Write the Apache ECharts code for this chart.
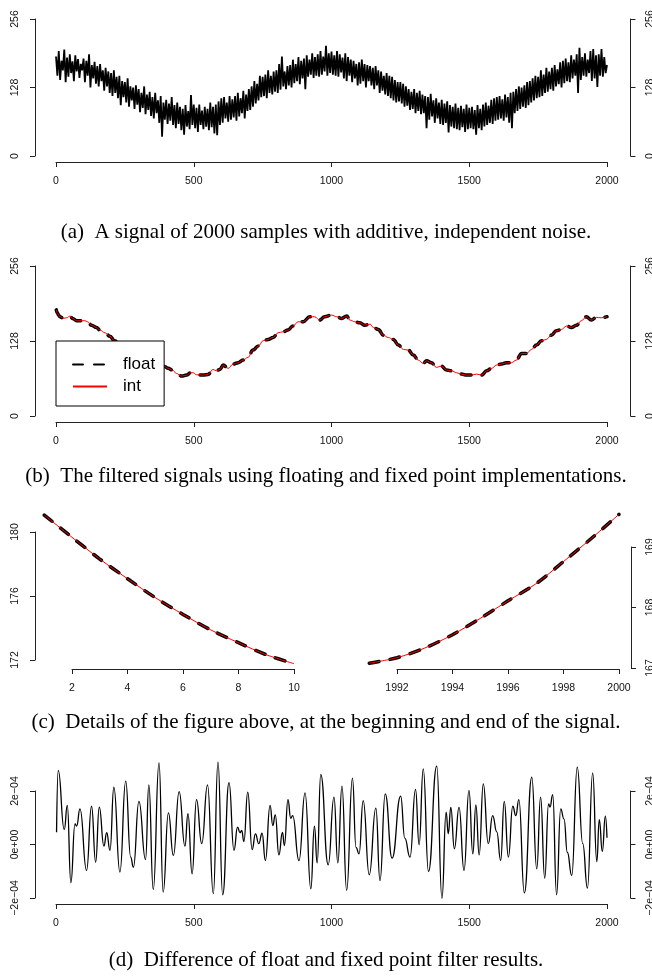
<!DOCTYPE html>
<html>
<head>
<meta charset="utf-8">
<script src="https://cdn.jsdelivr.net/npm/echarts@6/dist/echarts.min.js"></script>
<style>
html,body{margin:0;padding:0;background:#fff;}
#chart{width:652px;height:979px;}
</style>
</head>
<body>
<div id="chart"></div>
<script>
// (a) noisy signal, one value every 5 samples
const noisyStep = 5;
const noisySignal = [
  186,150,196,142,178,160,199,138,184,148, 190,155,177,140,188,158,181,146,172,160,
  182,138,178,150,190,128,170,145,176,135, 168,130,172,140,160,122,165,130,158,118,
  155,112,160,118,148,108,150,95,140,110,  138,100,145,92,130,104,128,88,132,96,
  125,82,118,90,130,78,115,86,120,75,      110,70,118,80,104,62,112,36,100,68,
  105,60,98,66,110,58,95,52,100,60,        92,48,88,40,95,55,84,50,114,58,
  96,52,90,45,96,58,85,50,92,55,           88,48,100,54,92,42,96,39,102,58,
  108,62,110,70,100,64,112,68,106,72,      112,66,118,74,108,80,122,70,115,84,
  125,86,130,92,140,98,135,104,150,110,    148,112,152,108,160,118,150,115,158,120,
  160,118,172,124,186,130,158,125,168,132, 170,128,180,136,172,140,185,134,178,145,
  182,125,188,148,180,152,192,146,185,150, 190,148,196,152,186,158,206,150,192,155,
  195,152,188,150,196,148,190,156,184,145, 192,140,185,150,180,138,178,145,172,132,
  175,135,180,140,172,128,170,140,168,132, 165,125,168,132,160,118,158,122,150,115,
  155,112,150,108,148,104,142,100,138,102, 138,98,135,92,130,94,125,86,120,88,
  125,80,118,84,122,78,115,80,112,52,      110,68,116,74,104,62,108,70,100,60,
  105,58,98,62,102,44,95,55,92,52,         98,50,90,48,94,54,88,45,96,50,
  90,52,92,50,86,40,95,52,88,48,           96,55,100,58,94,62,105,60,108,66,
  110,68,112,70,106,66,115,72,110,62,      118,52,120,80,125,84,130,88,128,92,
  132,90,138,95,140,100,145,104,150,108,   148,110,160,112,152,118,165,120,158,125,
  165,122,170,130,162,134,175,128,178,136, 182,140,175,138,188,145,180,150,190,118,
  202,142,185,150,192,148,180,155,196,140, 200,145,188,129,190,150,200,148,185,155,
  170
];

// (b) filtered signal (float and int coincide at this scale)
const filteredX = [1,5,10,14,27,39,51,60,75,87,105,114,129,147,160,178,196,212,230,250,270,
  290,310,330,350,370,385,395,407,423,437,456,474,488,498,510,534,552,570,582,595,
  607,625,643,661,679,697,715,734,752,770,788,806,824,842,860,879,897,921,939,957,
  975,1000,1019,1037,1055,1067,1085,1103,1121,1140,1152,1170,1188,1206,1224,1243,1261,1279,1297,1315,
  1333,1345,1363,1381,1399,1417,1436,1454,1472,1490,1508,1526,1545,1563,1581,1599,1617,1635,1653,1671,
  1690,1708,1726,1744,1762,1780,1798,1816,1834,1853,1871,1889,1907,1925,1943,1961,1979,2000];
const filteredY = [181.1,175.9,171.8,169.5,166.6,167.7,170.6,166.6,162.6,162.6,162.6,161,155,151,146.5,142,136,128.5,124,119,113,
  107,102,97,93,89,86,84.2,81.3,78.4,72.7,68.1,69.8,73.8,73.8,70.4,69.8,71,79.5,77.2,79.5,
  86.9,81.3,88.6,90.9,95.4,100,112.5,119.3,128.5,130.7,134.1,142,143.8,146.6,153.5,160.8,160.8,169.4,169.4,163.7,
  169.4,172.2,169.4,166.6,170.6,163.7,160.8,159,155,156.8,151.1,147.7,138,134,130.7,121,113.6,112.5,104,95.4,
  89.7,94.2,90.9,82.9,85.2,78.4,77.2,73.8,71.5,69.8,69.8,71.5,69.8,77.2,81.3,86.9,88.6,90.9,90.9,95.4,
  106.8,106.8,113.6,121,128.5,130.7,138,145.4,147.7,153.5,151.1,155,162.6,169.4,163.7,168.3,167.7,169.5];

// (c) details at the beginning and the end
const startX = [1,2,3,4,5,6,7,8,9,10];
const startY = [181.06,179.67,178.31,177.08,175.90,174.85,173.88,173.08,172.33,171.77];
const endX = [1991,1992,1993,1994,1995,1996,1997,1998,1999,2000];
const endY = [167.08,167.17,167.33,167.55,167.82,168.11,168.39,168.76,169.14,169.54];

// (d) float - int, extrema of the curve, values in units of 1e-4
const diffX = [2,8,30,41,54,69,75,87,111,129, 144,157,174,184,196,210,232,253,271,281,
  301,325,337,353,374,389,408,426,447,468, 479,494,510,529,550,571,588,605,628,646,
  659,668,674,682,696,712,724,736,748,760, 777,787,796,809,822,829,842,852,859,882,
  904,925,938,948,961,988,1009,1023,1038,1055, 1076,1089,1100,1115,1137,1161,1176,1195,1220,1251,
  1266,1285,1305,1318,1333,1352,1382,1401,1416,1424, 1433,1446,1463,1481,1499,1513,1524,1536,1551,1569,
  1585,1600,1614,1627,1642,1658,1669,1680,1700,1727, 1745,1759,1774,1788,1793,1803,1817,1832,1844,1856,
  1872,1892,1912,1929,1948,1963,1972,1983,1994,2000];
const diffY = [0.46,2.77,0.56,1.46,-1.43,0.77,0.69,1.33,-0.97,1.43, -0.66,1.40,-0.06,0.44,-0.22,2.14,-1.03,2.37,-0.47,-0.85,
  1.61,-0.56,2.23,-1.68,3.05,-1.78,1.18,-0.41,1.98,-0.06, 1.15,-1.10,1.68,0.03,2.23,-1.84,3.08,-1.88,2.31,-0.22,
  0.65,0.44,0.53,0.11,1.96,-0.19,0.40,0.03,0.42,-0.60, 1.46,0.71,1.11,-0.39,0.45,-0.04,1.68,0.98,1.08,-0.60,
  1.93,-1.66,0.69,-0.69,2.62,-0.76,1.77,-0.69,2.18,-1.72, 2.48,-0.11,-0.35,1.64,-1.13,1.36,-1.35,1.89,-0.51,1.81,
  0.24,-0.47,2.06,-0.01,2.83,-1.01,2.93,-2.01,1.21,0.40, 1.39,-0.16,1.39,-0.97,2.02,-0.35,1.48,-0.39,2.27,0.03,
  1.08,0.47,-0.60,1.61,-0.47,1.43,1.08,1.68,-1.81,2.52, -0.91,1.77,-1.26,1.52,1.40,1.86,-1.88,1.33,0.95,-0.29,
  -1.16,2.89,0.03,-1.63,2.68,-0.64,0.93,-0.26,1.06,0.25];
const diffTicks = [-2, 0, 2];
const diffTickLabels = ['\u22122e\u221204', '0e+00', '2e\u221204'];

const captions = [
  '(a)  A signal of 2000 samples with additive, independent noise.',
  '(b)  The filtered signals using floating and fixed point implementations.',
  '(c)  Details of the figure above, at the beginning and end of the signal.',
  '(d)  Difference of float and fixed point filter results.'
];

const zip = (xs, ys) => xs.map((x, i) => [x, ys[i]]);
const plain = v => String(v);
const diffLabel = v => diffTickLabels[diffTicks.indexOf(Math.round(v))];

function axis(extra, label) {
  return Object.assign({
    type: 'value',
    splitLine: { show: false },
    axisLine: { show: true, onZero: false, lineStyle: { color: '#222', width: 1 } },
    axisTick: { show: true, length: 5, lineStyle: { color: '#222', width: 1 } },
    axisLabel: Object.assign({ color: '#111', fontFamily: 'Liberation Sans', fontSize: 10.5, margin: 14, formatter: plain }, label || {})
  }, extra);
}
// invisible axis that only carries the data scale
function dataAxis(extra) {
  return Object.assign({ type: 'value', show: false, splitLine: { show: false } }, extra);
}
const yLabel = { rotate: 90 };

function lineSeries(name, xi, yi, data, style, extra) {
  return Object.assign({
    name: name, type: 'line', xAxisIndex: xi, yAxisIndex: yi, data: data,
    symbol: 'none', clip: false, animation: false, lineStyle: style,
    itemStyle: { color: style.color }
  }, extra || {});
}
const floatStyle = { color: '#000', width: 3.5, type: [10, 11], cap: 'round' };
const intStyle = { color: '#ff0000', width: 1 };

const chart = echarts.init(document.getElementById('chart'));
chart.setOption({
  animation: false,
  backgroundColor: '#fff',
  title: captions.map((t, i) => ({
    text: t, left: 'center', top: [222, 466, 712, 950][i], padding: 0,
    textStyle: { fontFamily: 'Liberation Serif', fontSize: 21, fontWeight: 'normal', color: '#000', lineHeight: 20 }
  })),
  legend: {
    data: ['float', 'int'], orient: 'vertical', left: 56, top: 341, icon: 'inherit',
    padding: [15, 9, 11, 16], itemGap: 5, itemWidth: 34, itemHeight: 17,
    itemStyle: { opacity: 0 },
    backgroundColor: '#fff', borderColor: '#000', borderWidth: 1, borderRadius: 0,
    selectedMode: false,
    textStyle: { fontFamily: 'Liberation Sans', fontSize: 17, color: '#000', padding: [0, 0, 0, 11] }
  },
  grid: [
    { left: 56, right: 45, top: 19, bottom: 823, outerBoundsMode: 'none' },
    { left: 56, right: 45, top: 266, bottom: 563, outerBoundsMode: 'none' },
    { left: 72, right: 358, top: 532, bottom: 319, outerBoundsMode: 'none' },
    { left: 397, right: 33, top: 547, bottom: 311, outerBoundsMode: 'none' },
    { left: 56, right: 45, top: 791, bottom: 81, outerBoundsMode: 'none' },
    { left: 44.25, right: 358, top: 532, bottom: 319, outerBoundsMode: 'none' },
    { left: 369.25, right: 33, top: 547, bottom: 311, outerBoundsMode: 'none' }
  ],
  xAxis: [
    axis({ gridIndex: 0, min: 0, max: 2000, interval: 500, offset: 6 }),
    axis({ gridIndex: 1, min: 0, max: 2000, interval: 500, offset: 6 }),
    axis({ gridIndex: 2, min: 2, max: 10, interval: 2, offset: 9 }),
    axis({ gridIndex: 3, min: 1992, max: 2000, interval: 2, offset: 1 }),
    axis({ gridIndex: 4, min: 0, max: 2000, interval: 500, offset: 6 }),
    dataAxis({ gridIndex: 5, min: 1, max: 10 }),
    dataAxis({ gridIndex: 6, min: 1991, max: 2000 })
  ],
  yAxis: [
    axis({ gridIndex: 0, min: 0, max: 256, interval: 128, offset: 21 }, yLabel),
    axis({ gridIndex: 0, min: 0, max: 256, interval: 128, offset: 23.5, position: 'right' }, yLabel),
    axis({ gridIndex: 1, min: 0, max: 256, interval: 128, offset: 21 }, yLabel),
    axis({ gridIndex: 1, min: 0, max: 256, interval: 128, offset: 23.5, position: 'right' }, yLabel),
    axis({ gridIndex: 2, min: 172, max: 180, interval: 4, offset: 37 }, yLabel),
    axis({ gridIndex: 3, min: 167, max: 169, interval: 1, offset: 12, position: 'right' }, yLabel),
    axis({ gridIndex: 4, min: -2, max: 2, interval: 2, offset: 21 }, Object.assign({ formatter: diffLabel }, yLabel)),
    axis({ gridIndex: 4, min: -2, max: 2, interval: 2, offset: 23.5, position: 'right' }, Object.assign({ formatter: diffLabel }, yLabel)),
    dataAxis({ gridIndex: 5, min: 172, max: 180 }),
    dataAxis({ gridIndex: 6, min: 167, max: 169 })
  ],
  series: [
    lineSeries('noisy', 0, 0, noisySignal.map((v, i) => [i * noisyStep, v]), { color: '#000', width: 1.8 }),
    lineSeries('float', 1, 2, zip(filteredX, filteredY), floatStyle, { smooth: 0.4, smoothMonotone: 'x' }),
    lineSeries('int', 1, 2, zip(filteredX, filteredY), intStyle, { smooth: 0.4, smoothMonotone: 'x' }),
    lineSeries('float', 5, 8, zip(startX, startY), floatStyle, { smooth: 0.3 }),
    lineSeries('int', 5, 8, zip(startX, startY), intStyle, { smooth: 0.3 }),
    lineSeries('float', 6, 9, zip(endX, endY), floatStyle, { smooth: 0.3 }),
    lineSeries('int', 6, 9, zip(endX, endY), intStyle, { smooth: 0.3 }),
    lineSeries('diff', 4, 6, zip(diffX, diffY), { color: '#000', width: 1.3 }, { smooth: 0.5, smoothMonotone: 'x' })
  ]
});
</script>
</body>
</html>
